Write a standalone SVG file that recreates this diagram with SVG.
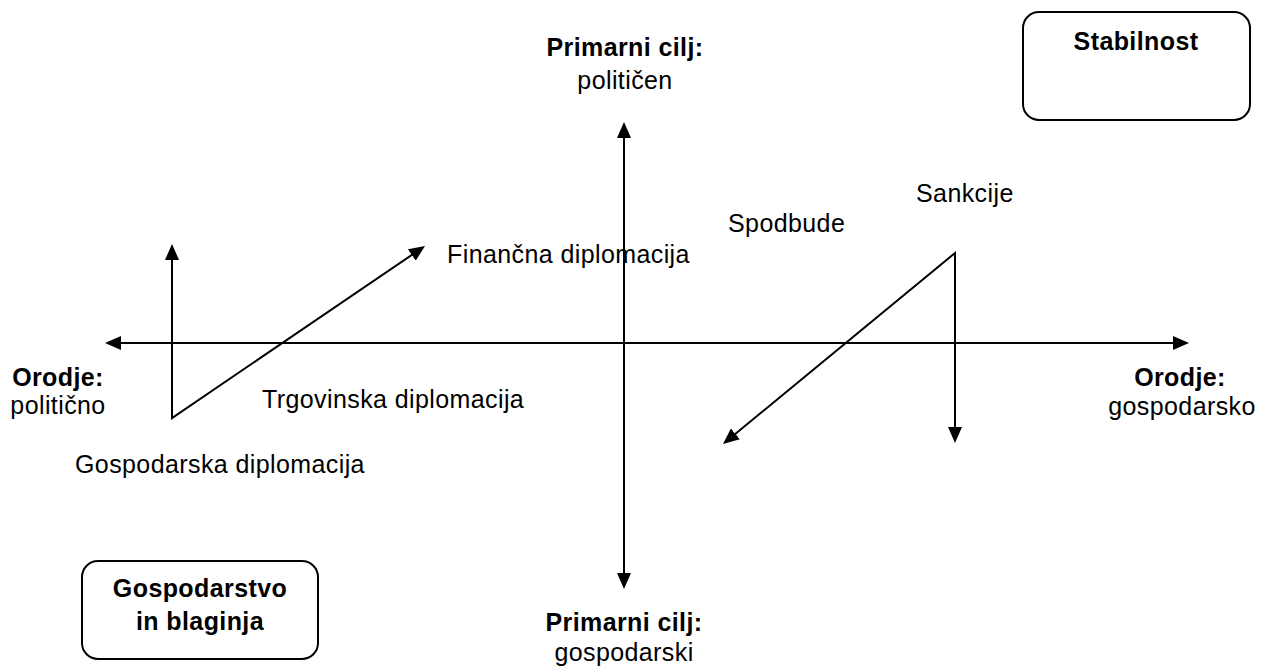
<svg xmlns="http://www.w3.org/2000/svg" width="1261" height="668" viewBox="0 0 1261 668">
  <defs>
    <marker id="arrow" viewBox="0 0 16 14" markerWidth="16" markerHeight="14" refX="12" refY="7" orient="auto-start-reverse" markerUnits="userSpaceOnUse">
      <path d="M0,0 L16,7 L0,14 z" fill="#000"/>
    </marker>
    <style>
      text { font-family: "Liberation Sans", Arial, sans-serif; font-size: 25px; fill: #000; letter-spacing: 0.4px; }
      .b { font-weight: bold; }
      .m { text-anchor: middle; }
      .box { fill: #fff; stroke: #000; stroke-width: 2; }
      .ln { fill: none; stroke: #000; stroke-width: 2; marker-start: url(#arrow); marker-end: url(#arrow); }
    </style>
  </defs>
  <rect width="1261" height="668" fill="#fff"/>

  <!-- axes and instrument arrows -->
  <g id="connectors">
    <line class="ln" x1="109" y1="343" x2="1185" y2="343"/>
    <line class="ln" x1="624" y1="126" x2="624" y2="585"/>
    <polyline class="ln" points="172,248 172,418 421.7,248.2"/>
    <polyline class="ln" points="726.1,441.5 955,253 955,439"/>
  </g>

  <g id="stabilnost">
    <rect class="box" x="1023" y="12" width="227" height="108" rx="16"/>
    <text class="b m" x="1136" y="50">Stabilnost</text>
  </g>

  <g id="gospodarstvo">
    <rect class="box" x="82" y="561" width="236" height="98" rx="16"/>
    <text class="b m" x="200" y="597">Gospodarstvo</text>
    <text class="b m" x="200" y="630">in blaginja</text>
  </g>

  <g id="cilj-politicen">
    <text class="b m" x="625" y="56">Primarni cilj:</text>
    <text class="m" x="625" y="89">političen</text>
  </g>

  <g id="cilj-gospodarski">
    <text class="b m" x="624" y="631">Primarni cilj:</text>
    <text class="m" x="624" y="661">gospodarski</text>
  </g>

  <g id="orodje-politicno">
    <text class="b m" x="58" y="386">Orodje:</text>
    <text class="m" x="58" y="414">politično</text>
  </g>

  <g id="orodje-gospodarsko">
    <text class="b m" x="1180" y="386">Orodje:</text>
    <text class="m" x="1182" y="415">gospodarsko</text>
  </g>

  <g id="financna">
    <text x="447" y="263">Finančna diplomacija</text>
  </g>
  <g id="trgovinska">
    <text x="262" y="408">Trgovinska diplomacija</text>
  </g>
  <g id="gospodarska">
    <text x="75" y="473">Gospodarska diplomacija</text>
  </g>
  <g id="spodbude">
    <text x="728" y="232">Spodbude</text>
  </g>
  <g id="sankcije">
    <text x="916" y="202">Sankcije</text>
  </g>
</svg>
